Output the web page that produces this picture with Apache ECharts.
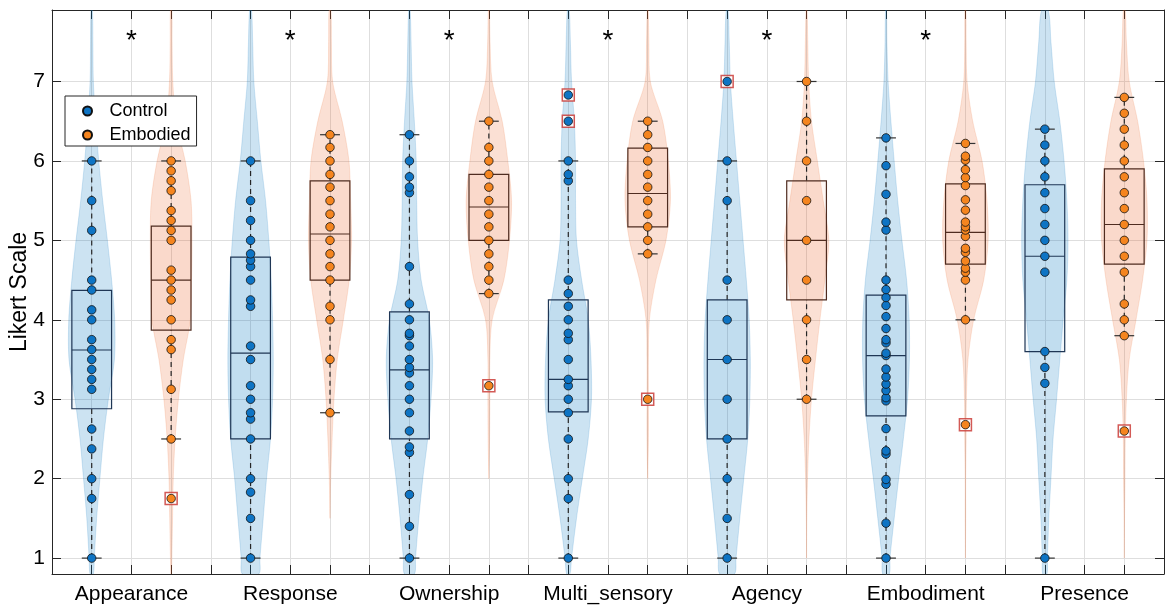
<!DOCTYPE html>
<html>
<head>
<meta charset="utf-8">
<script src="https://cdn.jsdelivr.net/npm/echarts@6/dist/echarts.min.js"></script>
<style>
  html, body { margin: 0; padding: 0; background: #fff; }
  #main { width: 1170px; height: 614px; }
</style>
</head>
<body>
<div id="main"></div>
<script>
// 分类和数据
const categories = ['Appearance', 'Response', 'Ownership', 'Multi_sensory', 'Agency', 'Embodiment', 'Presence'];

const controlScores = [
  [1, 1.75, 2, 2.375, 2.625, 3.125, 3.25, 3.375, 3.5, 3.625, 3.75, 4, 4.125, 4.375, 4.5, 5.125, 5.5, 6],
  [1, 1.5, 1.83, 2, 2.5, 2.75, 2.83, 3, 3.17, 3.5, 3.67, 4.17, 4.25, 4.5, 4.67, 4.75, 4.83, 5, 5.25, 5.5, 6],
  [1, 1.4, 1.8, 2.33, 2.4, 2.6, 2.83, 3, 3.17, 3.33, 3.4, 3.5, 3.67, 3.8, 3.83, 4, 4.2, 4.67, 5.6, 5.67, 5.8, 6, 6.33],
  [1, 1.75, 2, 2.5, 2.83, 3, 3.17, 3.25, 3.5, 3.75, 3.83, 4, 4.17, 4.33, 4.5, 5.75, 5.83, 6],
  [1, 1.5, 2, 2.5, 3, 3.5, 4, 4.5, 5.5, 6],
  [1, 1.44, 1.93, 1.99, 2.31, 2.35, 2.63, 2.98, 3.02, 3.11, 3.19, 3.28, 3.38, 3.55, 3.58, 3.71, 3.75, 3.89, 4.04, 4.18, 4.28, 4.38, 4.5, 5.13, 5.23, 5.58, 5.94, 6.29],
  [1, 3.2, 3.4, 3.6, 4.6, 4.8, 5, 5.2, 5.4, 5.6, 5.8, 6, 6.2, 6.4]
];
const embodiedScores = [
  [2.5, 3.125, 3.625, 3.75, 4, 4.25, 4.375, 4.5, 4.625, 5, 5.125, 5.25, 5.375, 5.625, 5.75, 5.875, 6],
  [2.83, 3.5, 4, 4.17, 4.5, 4.67, 4.83, 5, 5.17, 5.33, 5.5, 5.67, 5.83, 6, 6.17, 6.33],
  [4.33, 4.5, 4.67, 4.83, 5, 5.17, 5.33, 5.5, 5.67, 5.83, 6, 6.17, 6.5],
  [4.83, 5, 5.17, 5.33, 5.5, 5.67, 5.83, 6, 6.17, 6.33, 6.5],
  [3, 3.5, 4, 4.5, 5, 5.5, 6, 6.5, 7],
  [4, 4.5, 4.6, 4.65, 4.74, 4.85, 4.9, 5.05, 5.13, 5.17, 5.23, 5.38, 5.51, 5.69, 5.79, 5.89, 6.01, 6.06, 6.22],
  [3.8, 4, 4.2, 4.6, 4.8, 5, 5.2, 5.4, 5.6, 5.8, 6, 6.2, 6.4, 6.6, 6.8]
];
const controlOutliers = [[], [], [], [6.5, 6.83], [7], [], []];
const embodiedOutliers = [[1.75], [], [3.17], [3], [], [2.68], [2.6]];

// [下须, Q1, 中位数, Q3, 上须]
const controlBox = [
  [1, 2.88, 3.62, 4.37, 6],
  [1, 2.5, 3.58, 4.79, 6],
  [1, 2.5, 3.37, 4.1, 6.33],
  [1, 2.84, 3.25, 4.25, 6],
  [1, 2.5, 3.5, 4.25, 6],
  [1, 2.79, 3.55, 4.31, 6.29],
  [1, 3.6, 4.8, 5.7, 6.4]
];
const embodiedBox = [
  [2.5, 3.87, 4.5, 5.18, 6],
  [2.83, 4.5, 5.08, 5.75, 6.33],
  [4.33, 5.0, 5.42, 5.83, 6.5],
  [4.83, 5.17, 5.59, 6.16, 6.5],
  [3, 4.25, 5, 5.75, 7],
  [4, 4.7, 5.1, 5.71, 6.22],
  [3.8, 4.7, 5.2, 5.9, 6.8]
];

// 小提琴图的相对密度
const densityLevels = [0.8, 1, 1.5, 2, 2.5, 3, 3.5, 4, 4.5, 5, 5.5, 6, 6.5, 7, 7.5, 7.9];
const controlDensity = [
  [.07, .11, .21, .35, .50, .71, .97, .98, .85, .67, .47, .30, .17, .07, .05, .03],
  [.35, .40, .54, .68, .85, .94, .97, .94, .88, .78, .64, .44, .29, .14, .09, .04],
  [.21, .26, .40, .57, .78, .92, .99, .85, .50, .35, .31, .29, .21, .11, .07, .03],
  [.07, .14, .35, .60, .85, .99, .97, .85, .57, .35, .31, .31, .26, .14, .09, .04],
  [.31, .38, .54, .71, .88, .97, .99, .94, .82, .68, .54, .40, .26, .14, .09, .04],
  [.14, .17, .35, .54, .74, .92, 1.0, .99, .88, .68, .50, .35, .21, .09, .04, .02],
  [.09, .11, .17, .26, .35, .50, .64, .78, .94, .99, .94, .82, .64, .40, .26, .14]
];
const embodiedDensity = [
  [.01, .03, .06, .09, .17, .31, .52, .82, .87, .89, .85, .60, .21, .07, .04, .03],
  [0, 0, 0, .03, .09, .17, .31, .57, .82, .92, .88, .81, .52, .11, .06, .04],
  [0, 0, 0, 0, .03, .04, .04, .14, .64, .88, .97, .81, .57, .14, .05, .02],
  [0, 0, 0, 0, .03, .03, .03, .07, .35, .78, .97, .88, .64, .11, .05, .02],
  [0, 0, .01, .04, .10, .21, .38, .57, .78, .95, .71, .46, .21, .09, .05, .02],
  [0, 0, .01, .01, .03, .04, .11, .35, .78, .97, .92, .71, .31, .07, .03, .02],
  [0, 0, .01, .03, .04, .09, .21, .50, .78, .97, .97, .82, .57, .21, .09, .04]
];
const significant = [1, 1, 1, 1, 1, 1, 0];
const yTicks = [1, 2, 3, 4, 5, 6, 7];

const FONT = 'Arial, "Liberation Sans", Helvetica, sans-serif';
const groupColors = {
  dot: ['#0E74C4', '#F5851F'],
  violin: ['rgba(0,114,189,0.2)', 'rgba(235,100,40,0.2)'],
  boxFill: ['rgba(0,114,189,0.05)', 'rgba(235,100,40,0.05)'],
  boxEdge: ['#1f3655', '#4f2c20']
};
const violinHalf = 0.59;
const starLevel = 7.5;

function xPos(g, c) { return 4 * g + 1 + 2 * c; }

const violinItems = [], boxItems = [], outlierItems = [];
const dotData = [[], []];
[controlScores, embodiedScores].forEach((scores, c) => {
  const outs = c ? embodiedOutliers : controlOutliers;
  const boxes = c ? embodiedBox : controlBox;
  scores.forEach((vals, g) => {
    violinItems.push([xPos(g, c), boxes[g][2], c, g]);
    boxItems.push([xPos(g, c)].concat(boxes[g], [c]));
    vals.concat(outs[g]).forEach(v => dotData[c].push([xPos(g, c), v]));
    outs[g].forEach(v => outlierItems.push([xPos(g, c), v]));
  });
});
const starItems = [];
significant.forEach((s, g) => { if (s) starItems.push([4 * g + 2, starLevel]); });

const chart = echarts.init(document.getElementById('main'));

const axisLineStyle = { color: '#262626', width: 1 };

const option = {
  backgroundColor: '#fff',
  animation: false,
  textStyle: { fontFamily: FONT },
  grid: { left: 52, right: 6, top: 10, bottom: 40, outerBoundsMode: 'none', containLabel: false },
  legend: {
    left: 65, top: 96, orient: 'vertical',
    data: ['Control', 'Embodied'],
    icon: 'circle', itemWidth: 30, itemHeight: 9, itemGap: 6,
    padding: [6, 6, 2, 17],
    borderColor: '#262626', borderWidth: 1, backgroundColor: '#fff',
    textStyle: { fontSize: 18, color: '#000', fontFamily: FONT, lineHeight: 18, padding: [0, 0, 0, 2] }
  },
  xAxis: [{
    type: 'value', min: 0, max: 28, interval: 1,
    axisLine: { show: true, onZero: false, lineStyle: axisLineStyle },
    axisTick: { show: true, inside: true, length: 9, lineStyle: axisLineStyle },
    splitLine: { show: true, lineStyle: { color: '#dedede' } },
    axisLabel: {
      margin: 10, fontSize: 21, color: '#000', fontFamily: FONT,
      showMinLabel: true, showMaxLabel: true,
      formatter: v => (v % 4 === 2 ? categories[(v - 2) / 4] : '')
    }
  }, {
    type: 'value', min: 0, max: 28, interval: 1, position: 'top',
    axisLine: { show: true, onZero: false, lineStyle: axisLineStyle },
    axisTick: { show: true, inside: true, length: 9, lineStyle: axisLineStyle },
    splitLine: { show: false }, axisLabel: { show: false }
  }],
  yAxis: [{
    type: 'value', min: 0.8, max: 7.9,
    name: 'Likert Scale', nameLocation: 'middle', nameGap: 21, nameRotate: 90, nameMoveOverlap: false,
    nameTextStyle: { fontSize: 23, color: '#000', fontFamily: FONT },
    axisLine: { show: true, onZero: false, lineStyle: axisLineStyle },
    axisTick: { show: true, inside: true, length: 9, lineStyle: axisLineStyle, customValues: yTicks },
    splitLine: { show: true, lineStyle: { color: '#dedede' } },
    axisLabel: { margin: 7, fontSize: 21, color: '#000', fontFamily: FONT, customValues: yTicks }
  }, {
    type: 'value', min: 0.8, max: 7.9, position: 'right',
    axisLine: { show: true, onZero: false, lineStyle: axisLineStyle },
    axisTick: { show: true, inside: true, length: 9, lineStyle: axisLineStyle, customValues: yTicks },
    splitLine: { show: false }, axisLabel: { show: false }
  }],
  series: [
    {
      type: 'custom', name: 'violin', z: 1, clip: true, silent: true,
      data: violinItems,
      encode: { x: 0, y: 1 },
      renderItem: (params, api) => {
        const cx = api.value(0), c = api.value(2), g = api.value(3);
        const dens = (c ? embodiedDensity : controlDensity)[g];
        // 去掉两端密度为零的点
        let first = dens.findIndex(d => d > 0), last = dens.length - 1;
        while (last > 0 && dens[last] === 0) last--;
        first = Math.max(0, first - 1); last = Math.min(dens.length - 1, last + 1);
        const pts = [];
        for (let i = first; i <= last; i++) pts.push(api.coord([cx + dens[i] * violinHalf, densityLevels[i]]));
        for (let i = last; i >= first; i--) pts.push(api.coord([cx - dens[i] * violinHalf, densityLevels[i]]));
        return { type: 'polygon', shape: { points: pts, smooth: 0.3 }, style: { fill: groupColors.violin[c], stroke: groupColors.violin[c], lineWidth: 0.8 } };
      }
    },
    {
      type: 'custom', name: 'box', z: 2, clip: true, silent: true,
      data: boxItems,
      encode: { x: 0, y: 3 },
      renderItem: (params, api) => {
        const cx = api.value(0), lo = api.value(1), q1 = api.value(2), md = api.value(3), q3 = api.value(4), hi = api.value(5), c = api.value(6);
        const tl = api.coord([cx - 0.5, q3]), br = api.coord([cx + 0.5, q1]);
        const edge = groupColors.boxEdge[c];
        const ln = (a, b, extra) => {
          const p = api.coord(a), q = api.coord(b);
          return { type: 'line', shape: { x1: p[0], y1: p[1], x2: q[0], y2: q[1] }, style: Object.assign({ stroke: edge, lineWidth: 1.2 }, extra || {}) };
        };
        const dash = { stroke: '#262626', lineWidth: 1.2, lineDash: [5, 4] };
        return {
          type: 'group',
          children: [
            ln([cx, lo], [cx, q1], dash),
            ln([cx, q3], [cx, hi], dash),
            ln([cx - 0.25, lo], [cx + 0.25, lo], { stroke: '#333' }),
            ln([cx - 0.25, hi], [cx + 0.25, hi], { stroke: '#333' }),
            { type: 'rect', shape: { x: tl[0], y: tl[1], width: br[0] - tl[0], height: br[1] - tl[1] },
              style: { fill: groupColors.boxFill[c], stroke: edge, lineWidth: 1.2 } },
            ln([cx - 0.5, md], [cx + 0.5, md])
          ]
        };
      }
    },
    {
      type: 'scatter', name: 'outlier', z: 3, silent: true,
      symbol: 'rect', symbolSize: 12,
      itemStyle: { color: '#fff', borderColor: '#c8312c', borderWidth: 1.5 },
      data: outlierItems
    },
    {
      type: 'scatter', name: 'Control', z: 4, symbol: 'circle', symbolSize: 8.5,
      itemStyle: { color: groupColors.dot[0], borderColor: '#111', borderWidth: 0.8, opacity: 1 },
      data: dotData[0]
    },
    {
      type: 'scatter', name: 'Embodied', z: 4, symbol: 'circle', symbolSize: 8.5,
      itemStyle: { color: groupColors.dot[1], borderColor: '#111', borderWidth: 0.8, opacity: 1 },
      data: dotData[1]
    },
    {
      type: 'custom', name: 'stars', z: 5, silent: true,
      data: starItems,
      renderItem: (params, api) => {
        const p = api.coord([api.value(0), api.value(1)]);
        return { type: 'text', x: p[0], y: p[1],
          style: { text: '*', fontSize: 28, fontFamily: FONT, fill: '#000', align: 'center', verticalAlign: 'middle' } };
      }
    }
  ]
};

chart.setOption(option);
</script>
</body>
</html>
